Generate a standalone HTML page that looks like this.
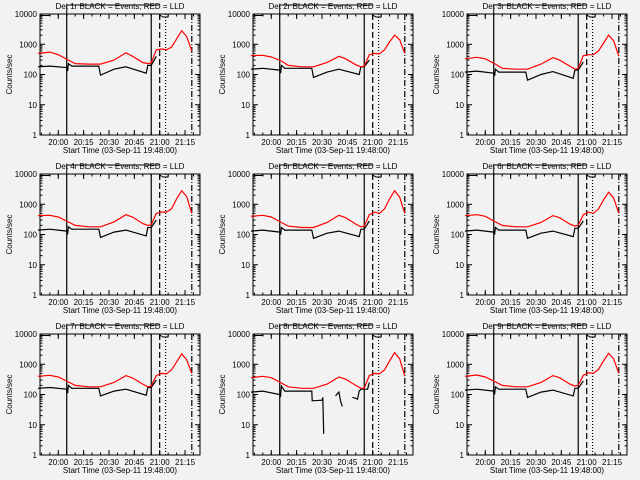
<!DOCTYPE html>
<html><head><meta charset="utf-8"><style>
html,body{margin:0;padding:0;background:#f2f2f2}
svg{display:block}
text{font-family:"Liberation Sans",sans-serif;font-size:8px;fill:#000}
</style></head><body>
<svg id="chart" width="640" height="480"></svg>
<script>
const NS='http://www.w3.org/2000/svg';
const titles=['Det 1r','Det 2r','Det 3r','Det 4r','Det 5r','Det 6r','Det 7r','Det 8r','Det 9r'];
const yTickVals=[1,10,100,1000,10000];
const yTickLabels=['1','10','100','1000','10000'];
const xTickMins=[12,27,42,57,72,87];
const xTickLabels=['20:00','20:15','20:30','20:45','21:00','21:15'];
const redT=[0,7,12,18,22,30,37,45,52,56,62,65,67,70,73,76,79,82,85,88,91];
const red1=[500,550,450,300,230,220,220,300,520,400,250,230,240,650,700,650,800,1500,2800,1800,600];
const red2=[420,430,380,280,200,180,180,250,400,330,210,180,190,450,500,480,650,1200,2000,1400,500];
const red3=[330,370,330,220,160,150,150,220,360,300,190,150,160,420,450,450,600,1100,2000,1300,400];
const red4=[420,430,380,260,200,180,180,260,450,380,230,200,210,500,550,550,700,1500,2800,1800,500];
const red5=[400,430,380,250,190,170,170,250,430,360,220,180,190,450,550,500,700,1500,2800,1700,500];
const red6=[420,450,400,260,200,180,180,250,420,360,220,190,200,450,550,500,700,1400,2500,1600,500];
const red7=[400,430,380,260,200,180,180,250,420,350,220,180,190,420,500,480,650,1200,2200,1400,500];
const red8=[360,400,360,240,180,160,160,220,380,320,200,160,160,420,500,480,650,1300,2400,1500,400];
const red9=[400,440,380,260,200,180,180,250,420,360,220,190,200,430,520,500,680,1300,2300,1500,500];
const blackT=[0,7,17,17.5,18,20,36,37,45,52,64,65,67,70];
const black1=[180,190,170,130,230,190,190,95,150,180,110,200,200,400];
const black2=[150,160,140,110,200,160,160,80,120,150,100,180,180,300];
const black3=[120,130,110,90,150,120,120,65,100,125,75,140,140,260];
const black4=[140,150,130,100,180,150,150,80,120,140,90,170,170,300];
const black5=[130,140,120,100,170,140,140,75,110,130,85,150,150,280];
const black6=[130,140,120,100,170,140,140,75,110,130,85,160,160,280];
const black7=[160,170,150,110,200,160,160,90,130,150,95,170,170,300];
const black9=[140,150,130,100,180,150,150,80,120,140,90,160,160,280];
const black8T=[0,7,17,17.5,18,20,36,36.2,42,42.5,43,null,50,52,53,54,null,60,62,63,64,65,69,70];
const black8=[120,130,100,90,190,130,130,62,65,80,5,null,90,120,60,40,null,80,75,70,130,150,150,250];
const reds=[red1,red2,red3,red4,red5,red6,red7,red8,red9];
const blacks=[black1,black2,black3,black4,black5,black6,black7,black8,black9];
const vlineMins=[17,67,72,75.5,91];
const vlineDash=['none','none','6,3','1,2','6,2,1,2'];

const svg=document.getElementById('chart');
function mk(tag,attrs,parent){const e=document.createElementNS(NS,tag);for(const k in attrs)e.setAttribute(k,attrs[k]);(parent||svg).appendChild(e);return e;}

for(let p=0;p<9;p++){
  const col=p%3,row=Math.floor(p/3);
  const ox=Math.round(col*213.3),oy=row*160;
  const L=ox+40,R=ox+200,T=oy+14,B=oy+135;
  const X=m=>L-2+m*1.69;
  const Y=v=>B-Math.log10(v)*(B-T)/4;
  const g=mk('g',{});
  
  
  const box=mk('rect',{x:L,y:T,width:R-L,height:B-T,fill:'none',stroke:'#000','stroke-width':1},g);
  
  
  const tt=mk('text',{x:(L+R)/2,y:oy+9,'text-anchor':'middle','font-size':'9.5'},g);
  tt.textContent=titles[p]+' BLACK = Events, RED = LLD';
  
  
  for(let i=0;i<yTickVals.length;i++){
    const y=Y(yTickVals[i]);
    mk('line',{x1:L,x2:L+5,y1:y,y2:y,stroke:'#000'},g);
    mk('line',{x1:R,x2:R-5,y1:y,y2:y,stroke:'#000'},g);
    const t=mk('text',{x:L-3,y:y+3,'text-anchor':'end'},g);
    t.textContent=yTickLabels[i];
    
    
    if(i<4)for(let k=2;k<10;k++){const yy=Y(yTickVals[i]*k);
      mk('line',{x1:L,x2:L+2.5,y1:yy,y2:yy,stroke:'#000'},g);
      mk('line',{x1:R,x2:R-2.5,y1:yy,y2:yy,stroke:'#000'},g);}
  }
  for(let i=0;i<xTickMins.length;i++){
    const x=X(xTickMins[i]);
    mk('line',{x1:x,x2:x,y1:B,y2:B-5,stroke:'#000'},g);
    mk('line',{x1:x,x2:x,y1:T,y2:T+5,stroke:'#000'},g);
    const t=mk('text',{x:x,y:B+10,'text-anchor':'middle'},g);
    t.textContent=xTickLabels[i];
    
    
  }
  for(let m=2;m<94;m+=5){const x=X(m);
    mk('line',{x1:x,x2:x,y1:B,y2:B-2.5,stroke:'#000'},g);
    mk('line',{x1:x,x2:x,y1:T,y2:T+2.5,stroke:'#000'},g);}
  const xl=mk('text',{x:(L+R)/2,y:oy+153,'text-anchor':'middle','font-size':'9'},g);
  xl.textContent='Start Time (03-Sep-11 19:48:00)';
  
  
  const yl=mk('text',{x:ox+12,y:(T+B)/2,'text-anchor':'middle',transform:`rotate(-90 ${ox+12} ${(T+B)/2})`,'font-size':'8'},g);
  yl.textContent='Counts/sec';
  
  
  mk('polyline',{points:`${L},${T+1.5} ${L+10},${T+1.5} ${L+10},${T}`,fill:'none',stroke:'#000'},g);
  mk('polyline',{points:`${X(17)},${T} ${X(17)},${oy+5} ${X(72)},${oy+5}`,fill:'none',stroke:'#000'},g);
  mk('polyline',{points:`${X(72)},${T+1} ${X(74)},${T+3} ${X(77)},${T+3} ${X(77)},${T}`,fill:'none',stroke:'#000'},g);
  for(let i=0;i<vlineMins.length;i++){
    const x=X(vlineMins[i]);
    const l=mk('line',{x1:x,x2:x,y1:T,y2:B,stroke:'#000','stroke-width':1.2},g);
    if(vlineDash[i]!=='none')l.setAttribute('stroke-dasharray',vlineDash[i]);
    
    
  }
  const bt=(p===7)?black8T:blackT;
  const bv=blacks[p];
  let segs=[],cur=[];
  for(let i=0;i<bt.length;i++){
    if(bt[i]===null||bv[i]===null){if(cur.length)segs.push(cur);cur=[];continue;}
    cur.push(X(bt[i]).toFixed(1)+','+Y(bv[i]).toFixed(1));
  }
  if(cur.length)segs.push(cur);
  segs.forEach(s=>{const pl=mk('polyline',{points:s.join(' '),fill:'none',stroke:'#000','stroke-width':1.2},g);
    
    });
  const rv=reds[p];
  const rp=redT.map((t,i)=>X(t).toFixed(1)+','+Y(rv[i]).toFixed(1)).join(' ');
  const rl=mk('polyline',{points:rp,fill:'none',stroke:'#f00','stroke-width':1.2},g);
  
  
}
</script>
</body></html>
